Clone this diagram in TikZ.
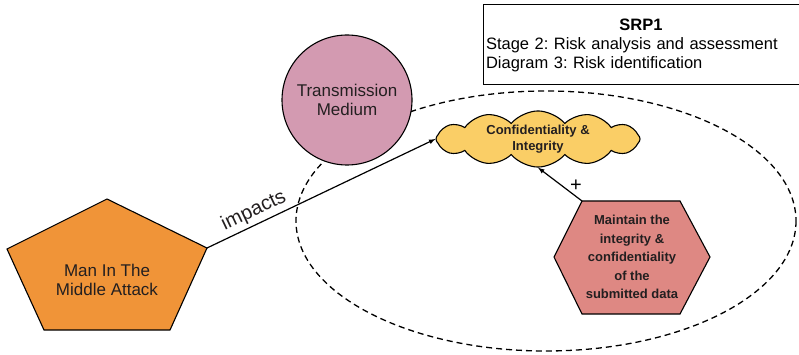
\documentclass[tikz,border=0pt]{standalone}
\usepackage{fontspec}
\setmainfont{Liberation Sans}
\usetikzlibrary{shapes.symbols}
\definecolor{attackorange}{RGB}{240,148,56}
\definecolor{mediumpink}{RGB}{211,154,177}
\definecolor{cloudyellow}{RGB}{250,206,102}
\definecolor{goalred}{RGB}{222,136,131}
\definecolor{inkgray}{RGB}{35,31,32}
\frenchspacing
\begin{document}
\begin{tikzpicture}[>=latex, x=1pt, y=-1pt, line width=1.1pt,
  shapetext/.style={text=inkgray, align=center, font=\fontsize{17}{19}\selectfont},
  boldtext/.style={text=inkgray, align=center, font=\bfseries\fontsize{13}{16}\selectfont}]
\useasboundingbox (0,0) rectangle (799,355);
\draw[line width=1.3pt, dash pattern=on 6pt off 4pt](546,221) ellipse (250 and 130);
\node[circle, draw, fill=mediumpink, minimum size=130, shapetext](medium) at (347,100){Transmission\\Medium};
\draw[fill=attackorange](107,199)--(207,248)coordinate(attackR)--(170,330)--(44,330)--(7,249)--cycle;
\node[shapetext](attack) at (107,280){Man In The\\Middle Attack};
\node[cloud, draw, fill=cloudyellow, cloud puffs=12, cloud puff arc=100, cloud ignores aspect,
  minimum width=204, minimum height=52, inner sep=0, boldtext](conf) at (538,139){Confidentiality \&\\Integrity};
\draw[fill=goalred](582,201)coordinate(goalTL)--(680,201)--(710,257)--(680,314)--(582,314)--(554,257)--cycle;
\node[boldtext, font=\bfseries\fontsize{13}{18.5}\selectfont](goal) at (632,257)
  {Maintain the\\integrity \&\\confidentiality\\of the\\submitted data};
\draw[->, line width=1.2pt](attackR)--(conf.west)node[pos=0.23, sloped, above, text=inkgray, font=\fontsize{20}{22}\selectfont]{impacts};
\draw[->, line width=1.2pt](goalTL)--(conf.south)node[pos=0.45, right=4pt, text=black, font=\fontsize{20}{20}\selectfont]{+};
\node[draw, line width=1pt, minimum width=316, minimum height=80, text width=310, align=left, inner sep=2,
  text=black, font=\fontsize{16.5}{19}\selectfont](srp) at (641,45)
  {\makebox[310pt]{\textbf{SRP1}}\\Stage 2: Risk analysis and assessment\\Diagram 3: Risk identification};
\end{tikzpicture}
\end{document}
